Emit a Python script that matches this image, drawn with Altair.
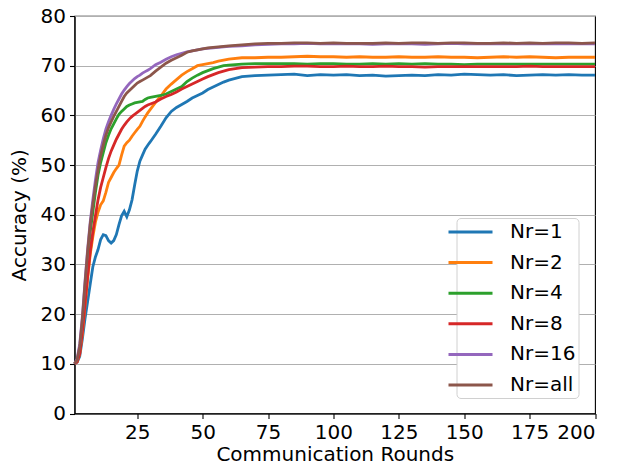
import altair as alt
import pandas as pd

rounds = list(range(1, 31)) + list(range(32, 61, 2)) + list(range(65, 201, 5))

nr1 = [10, 10.3, 11.5, 15, 19, 22.5, 26, 29.5, 31.5, 33, 35, 36, 35.8, 34.8, 34.3, 34.8, 36, 38, 39.8, 40.7,
       39.6, 41, 43, 46, 48.8, 50.8, 52, 53.2, 54, 54.7,
       56.2, 57.8, 59.5, 60.8, 61.6, 62.2, 62.8, 63.5, 64, 64.5, 65.2, 65.7, 66.2, 66.7, 67.1,
       67.8, 68.0, 68.1, 68.2, 68.3, 68.0, 68.2, 68.1, 68.2, 68.0, 68.1, 67.9, 68.0, 68.1, 68.0, 68.2, 68.1,
       68.3, 68.2, 68.1, 68.2, 68.0, 68.1, 68.2, 68.1, 68.2, 68.1, 68.1]
nr2 = [10, 10.4, 12, 16, 21.5, 27, 32, 35.5, 38.5, 40.5, 42, 42.8, 44.5, 46.5, 47.5, 48.5, 49.3, 50, 52, 53.8,
       54.5, 55, 55.8, 56.5, 57.2, 57.8, 58.8, 59.7, 60.5, 61.2,
       62.6, 63.9, 65.3, 66.3, 67.2, 68.1, 68.8, 69.4, 70, 70.2, 70.4, 70.6, 70.9, 71.1, 71.3,
       71.6, 71.6, 71.7, 71.7, 71.8, 71.9, 71.8, 71.8, 71.7, 71.8, 71.7, 71.7, 71.8, 71.7, 71.7, 71.8, 71.7,
       71.7, 71.6, 71.7, 71.8, 71.7, 71.8, 71.7, 71.6, 71.7, 71.7, 71.7]
nr4 = [10, 10.6, 12.8, 18, 24.5, 31, 36.5, 40.5, 44.5, 48, 50.5, 52.5, 54.5, 56, 57.3, 58.3, 59.3, 60.2, 60.8, 61.3,
       61.8, 62.1, 62.3, 62.5, 62.6, 62.7, 62.8, 63.2, 63.5, 63.6,
       63.8, 64, 64.3, 64.8, 65.3, 65.8, 66.8, 67.5, 68.1, 68.6, 69, 69.4, 69.7, 70, 70.1,
       70.3, 70.4, 70.4, 70.4, 70.4, 70.3, 70.4, 70.4, 70.3, 70.3, 70.4, 70.3, 70.4, 70.3, 70.4, 70.3, 70.3,
       70.2, 70.3, 70.3, 70.3, 70.3, 70.3, 70.3, 70.3, 70.3, 70.3, 70.3]
nr8 = [10, 10.4, 12, 16.5, 22, 27.5, 32.5, 36.5, 39.8, 43, 45.5, 47.5, 49.5, 51.3, 52.8, 54, 55.2, 56.2, 57.2, 58,
       58.7, 59.3, 59.8, 60.2, 60.6, 61, 61.4, 61.8, 62.1, 62.3,
       62.7, 63.3, 63.8, 64.2, 64.7, 65.3, 65.8, 66.3, 66.8, 67.3, 67.8, 68.2, 68.6, 68.9, 69.2,
       69.6, 69.7, 69.8, 69.8, 69.9, 69.9, 69.8, 69.8, 69.9, 69.8, 69.8, 69.9, 69.8, 69.8, 69.7, 69.8, 69.8,
       69.8, 69.8, 69.8, 69.8, 69.8, 69.9, 69.8, 69.8, 69.8, 69.8, 69.8]
nr16 = [10, 11, 14, 19.5, 26.5, 33, 38.5, 43, 47, 50.5, 53, 55.3, 57.2, 58.7, 60, 61.2, 62.3, 63.3, 64.3, 65.1,
        65.8, 66.4, 66.9, 67.4, 67.8, 68.1, 68.5, 68.8, 69.1, 69.4,
        70.2, 70.7, 71.3, 71.8, 72.2, 72.5, 72.8, 73.0, 73.2, 73.4, 73.5, 73.6, 73.7, 73.8, 73.9,
        74.0, 74.2, 74.3, 74.4, 74.4, 74.5, 74.4, 74.4, 74.4, 74.4, 74.3, 74.4, 74.4, 74.4, 74.3, 74.4, 74.5,
        74.4, 74.4, 74.4, 74.4, 74.4, 74.4, 74.4, 74.4, 74.4, 74.4, 74.4]
nrall = [10, 10.8, 13.5, 19, 26, 32.5, 38, 42, 45.8, 49, 51.9, 54, 56, 57.5, 58.7, 59.8, 60.8, 61.8, 62.8, 63.8,
         64.5, 65, 65.5, 66, 66.5, 66.8, 67.1, 67.4, 67.7, 68,
         68.9, 69.7, 70.5, 71.1, 71.6, 72.1, 72.7, 73.0, 73.2, 73.4, 73.6, 73.7, 73.8, 73.9, 74.0,
         74.2, 74.4, 74.5, 74.5, 74.6, 74.6, 74.5, 74.6, 74.5, 74.5, 74.5, 74.6, 74.5, 74.6, 74.6, 74.5, 74.6,
         74.6, 74.5, 74.5, 74.6, 74.5, 74.6, 74.5, 74.6, 74.6, 74.5, 74.6]

names = ["Nr=1", "Nr=2", "Nr=4", "Nr=8", "Nr=16", "Nr=all"]
colors = ["#1f77b4", "#ff7f0e", "#2ca02c", "#d62728", "#9467bd", "#8c564b"]
series = [nr1, nr2, nr4, nr8, nr16, nrall]
x_ticks = [25, 50, 75, 100, 125, 150, 175, 200]
y_ticks = [0, 10, 20, 30, 40, 50, 60, 70, 80]

rows = []
for i, (n, s) in enumerate(zip(names, series)):
    for r, v in zip(rounds, s):
        rows.append({"round": r, "acc": v, "series": n, "order": i})
df = pd.DataFrame(rows)

FONT = "DejaVu Sans"

chart = alt.Chart(df).mark_line(strokeWidth=2.8).encode(
    x=alt.X("round:Q", scale=alt.Scale(domain=[1, 200], nice=False, zero=False),
            axis=alt.Axis(title="Communication Rounds", values=x_ticks, grid=False)),
    y=alt.Y("acc:Q", scale=alt.Scale(domain=[0, 80], nice=False),
            axis=alt.Axis(title="Accuracy (%)", values=y_ticks, grid=True)),
    color=alt.Color("series:N", sort=names,
                    scale=alt.Scale(domain=names, range=colors),
                    legend=alt.Legend(title=None, orient="none", legendX=382, legendY=202,
                                      symbolType="M-2.2,0H2.2", symbolSize=400,
                                      symbolStrokeWidth=3, labelFontSize=20, labelFont=FONT,
                                      labelColor="black", labelOffset=28, rowPadding=8.6,
                                      padding=2.5, columnPadding=0,
                                      strokeColor="#d0d0d0", fillColor="white",
                                      cornerRadius=4)),
    order="order:Q",
).properties(
    width=520.5, height=397.5,
    padding={"left": 66.5, "top": 8, "right": 20, "bottom": 60},
    autosize=alt.AutoSizeParams(type="none"),
).configure_view(
    stroke="black", strokeWidth=1.1
).configure_axis(
    domainColor="black", domainWidth=1.1, tickColor="black", tickSize=5, tickWidth=1.1,
    labelFont=FONT, labelFontSize=20, labelColor="black", labelPadding=4,
    titleFont=FONT, titleFontSize=20, titleFontWeight="normal", titleColor="black",
    gridColor="#b0b0b0", gridWidth=1.1,
).configure_axisY(titlePadding=11).configure_axisX(titlePadding=2)

chart.save("out.html", embed_options={"renderer": "svg", "actions": False})
